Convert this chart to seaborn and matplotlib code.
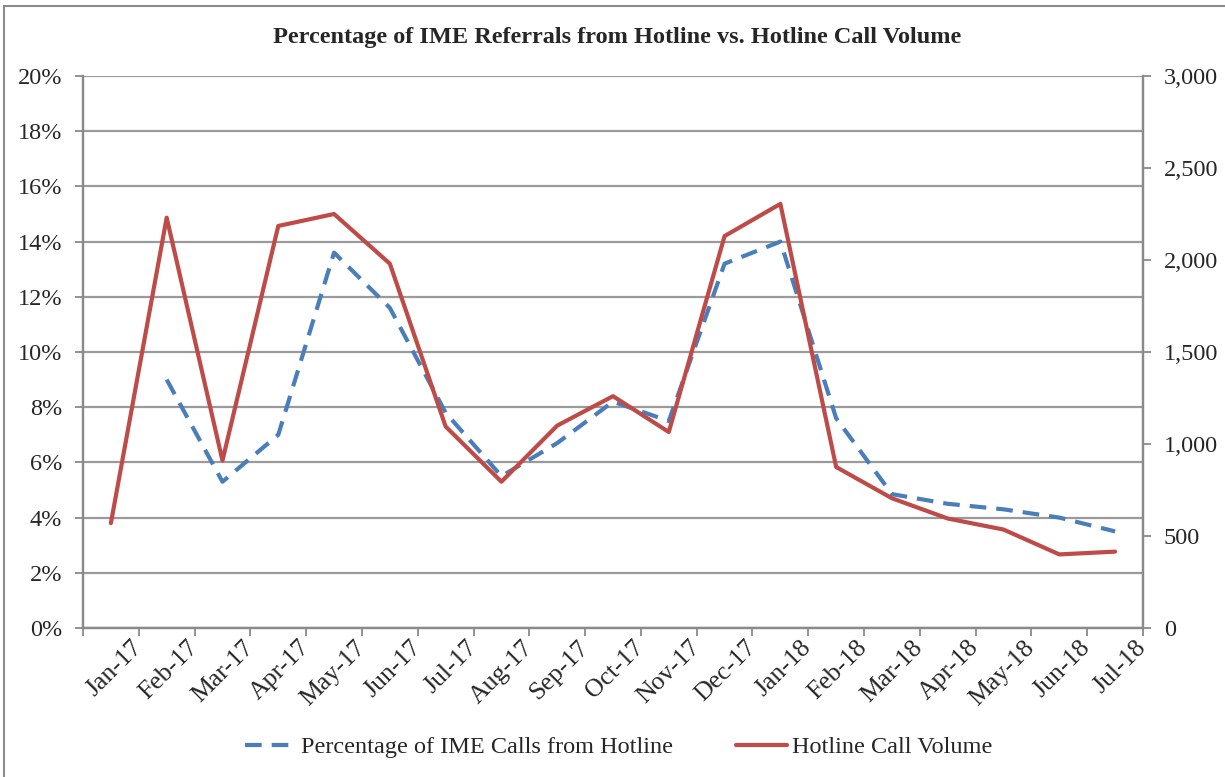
import numpy as np
import pandas as pd
import matplotlib
matplotlib.use("Agg")
import matplotlib.pyplot as plt
import matplotlib.transforms as mtransforms
from matplotlib.lines import Line2D
from matplotlib.ticker import FuncFormatter, FixedLocator
import seaborn as sns

# ---------------- data ----------------
months = ["Jan-17", "Feb-17", "Mar-17", "Apr-17", "May-17", "Jun-17", "Jul-17",
          "Aug-17", "Sep-17", "Oct-17", "Nov-17", "Dec-17", "Jan-18", "Feb-18",
          "Mar-18", "Apr-18", "May-18", "Jun-18", "Jul-18"]
pct_ime_from_hotline = [np.nan, 9.0, 5.3, 7.0, 13.6, 11.6, 7.8, 5.5, 6.7, 8.2,
                        7.5, 13.2, 14.0, 7.6, 4.85, 4.5, 4.3, 4.0, 3.5]
hotline_call_volume = [570, 2230, 910, 2185, 2250, 1980, 1095, 795, 1100, 1260,
                       1065, 2130, 2305, 875, 705, 595, 535, 400, 415]
pct_ticks = [0, 2, 4, 6, 8, 10, 12, 14, 16, 18, 20]
vol_ticks = [0, 500, 1000, 1500, 2000, 2500, 3000]

title = "Percentage of IME Referrals from Hotline vs. Hotline Call Volume"
label_pct = "Percentage of IME Calls from Hotline"
label_vol = "Hotline Call Volume"

df = pd.DataFrame({"month": months,
                   "pct": [v / 100 for v in pct_ime_from_hotline],
                   "vol": hotline_call_volume})

# ---------------- style ----------------
sns.set_theme(style="white")
plt.rcParams["font.family"] = ["Liberation Serif", "DejaVu Serif"]

BLUE = "#4A7EBB"
RED = "#BE4B48"
GRID = "#9a9a9a"
EDGE = "#8a8a8a"
W, H = 1225, 777

fig = plt.figure(figsize=(W / 100, H / 100), dpi=100)
ax = fig.add_axes([83 / W, 1 - 628 / H, (1143 - 83) / W, (628 - 76) / H])
ax2 = ax.twinx()

sns.lineplot(data=df, x="month", y="pct", ax=ax, color=BLUE, linewidth=3.0,
             sort=False, legend=False)
ax.lines[-1].set_dashes([4, 2.4])
sns.lineplot(data=df, x="month", y="vol", ax=ax2, color=RED, linewidth=3.0,
             sort=False, legend=False)

# left axis
ax.set_ylim(0, 0.20)
ax.yaxis.set_major_locator(FixedLocator([t / 100 for t in pct_ticks]))
ax.yaxis.set_major_formatter(FuncFormatter(lambda v, p: f"{v * 100:.0f}%"))
ax.set_xlim(-0.5, len(months) - 0.5)
ax.grid(axis="y", color=GRID, linewidth=1.6)
ax.set_axisbelow(True)
ax.set_xlabel("")
ax.set_ylabel("")

# right axis
ax2.set_ylim(0, 3000)
ax2.yaxis.set_major_locator(FixedLocator(vol_ticks))
ax2.yaxis.set_major_formatter(FuncFormatter(lambda v, p: f"{int(v):,}"))
ax2.set_ylabel("")
ax2.grid(False)

for a in (ax, ax2):
    for s in a.spines.values():
        s.set_color(EDGE)
        s.set_linewidth(1.6)
    a.spines["top"].set_visible(False)

ax.tick_params(axis="y", which="major", direction="out", length=6, width=1.3,
               color=EDGE, labelsize=17.5, pad=9, left=True)
ax2.tick_params(axis="y", which="major", direction="out", length=6, width=1.3,
                color=EDGE, labelsize=17.5, pad=9, right=True)

# x ticks: marks at category boundaries, labels at centres
ax.xaxis.set_minor_locator(FixedLocator(np.arange(-0.5, len(months) + 0.5, 1.0)))
ax.tick_params(axis="x", which="minor", direction="out", length=6, width=1.3,
               color=EDGE, bottom=True)
ax.tick_params(axis="x", which="major", length=0, labelsize=18.5, pad=6)
ax.set_xticks(range(len(months)))
ax.set_xticklabels(months, rotation=45, ha="right", rotation_mode="anchor")
offset = mtransforms.ScaledTranslation(20 / 100, 0, fig.dpi_scale_trans)
for lbl in ax.get_xticklabels():
    lbl.set_transform(lbl.get_transform() + offset)

# title
fig.text(617 / W, 1 - 37 / H, title, ha="center", va="center",
         fontsize=17.5, fontweight="bold")

# legend
handles = [Line2D([], [], color=BLUE, linewidth=3.0, dashes=[4, 2.4]),
           Line2D([], [], color=RED, linewidth=3.0)]
fig.legend(handles, [label_pct, label_vol], loc="center",
           bbox_to_anchor=(619 / W, 1 - 747 / H), ncol=2, frameon=False,
           fontsize=17.5, handlelength=2.1, handletextpad=0.2, columnspacing=2.6)

# outer frame (left and top edges visible in the reference)
fig.add_artist(Line2D([4 / W, 4 / W], [0, 1 - 6 / H], transform=fig.transFigure,
                      color=EDGE, linewidth=1.5))
fig.add_artist(Line2D([4 / W, 1], [1 - 6 / H, 1 - 6 / H], transform=fig.transFigure,
                      color=EDGE, linewidth=1.5))

fig.savefig("out.png", dpi=100, facecolor="white")
